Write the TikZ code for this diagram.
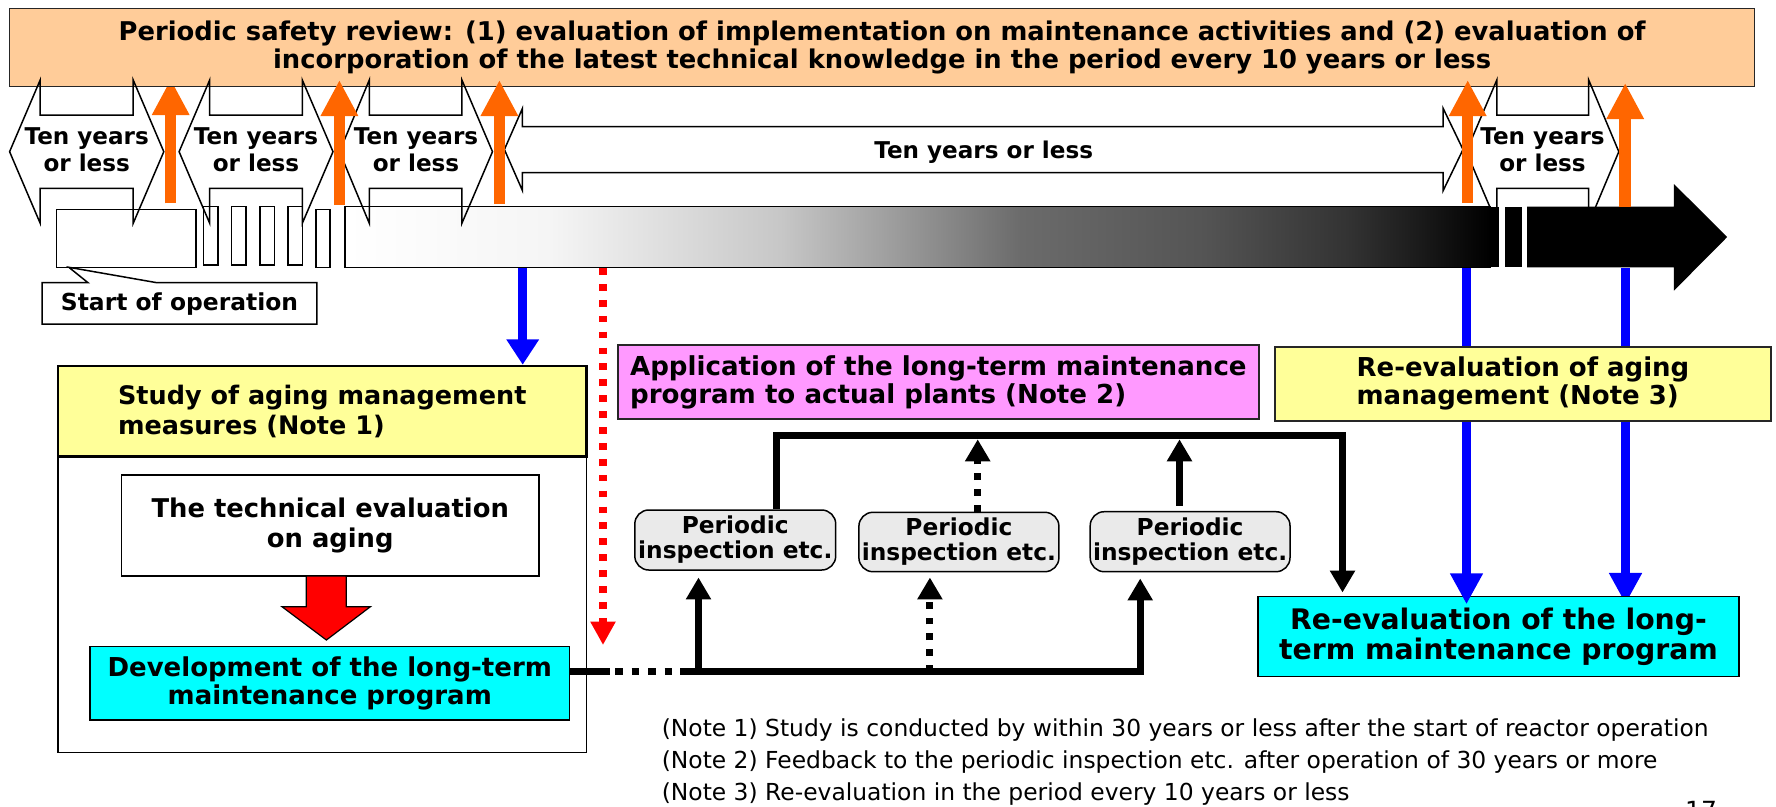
\documentclass[tikz,border=0pt]{standalone}
\usepackage{fontspec}
\setmainfont{DejaVu Sans}
\usetikzlibrary{arrows.meta}
\definecolor{peach}{HTML}{FFCC99}
\definecolor{lyellow}{HTML}{FFFF99}
\definecolor{lpink}{HTML}{FF99FF}
\definecolor{aqua}{HTML}{00FFFF}
\definecolor{orng}{HTML}{FF6600}
\definecolor{pgray}{HTML}{EAEAEA}
\pgfdeclarehorizontalshading{tlshade}{100bp}{color(0bp)=(white); color(25bp)=(white); color(34bp)=(black!4); color(44bp)=(black!22); color(48.5bp)=(black!37); color(54.5bp)=(black!58); color(62.5bp)=(black!67); color(68.75bp)=(black!80); color(72bp)=(black!90); color(75bp)=(black); color(100bp)=(black)}
\begin{document}
\begin{tikzpicture}[x=1pt,y=-1pt,line join=miter,
  bx/.style={draw=black, line width=1.5pt, inner sep=0pt, align=center},
  tenarr/.style={draw=black, line width=1.5pt},
  tentxt/.style={align=center, inner sep=0pt, font=\fontsize{23.1}{26.7}\selectfont\bfseries},
  orarrow/.style={draw=orng, line width=11.5pt, -{Triangle[width=35pt,length=36pt]}},
  bluearrow/.style={draw=blue, line width=9.3pt, -{Triangle[width=31pt,length=#1]}},
  flow/.style={draw=black, line width=7pt},
  flowarrow/.style={flow, -{Triangle[width=24pt,length=22pt]}},
  dotsq/.style={dash pattern=on 6.7pt off 9pt},
  pibox/.style={bx, fill=pgray, rounded corners=14pt, minimum width=200pt, minimum height=60pt, font=\fontsize{23.3}{25}\selectfont\bfseries},
  smallrect/.style={draw=black, line width=1.5pt, fill=white, inner sep=0pt, minimum height=58.3pt},
]
\useasboundingbox (0,0) rectangle (1776,806);

% orange arrow behind the top box
\coordinate (oa1) at (170.7,203.3); \coordinate (oa1t) at (170.7,79);
\draw[orarrow] (oa1) -- (oa1t);

% top box
\node[bx, draw=black!85, fill=peach, minimum width=1745.1pt, minimum height=78.4pt,
  font=\fontsize{25.8}{28}\selectfont\bfseries] (psr) at (882.15,47.5)
  {Periodic safety review: (1) evaluation of implementation on maintenance activities and (2) evaluation of\\incorporation of the latest technical knowledge in the period every 10 years or less};

% timeline
\node[smallrect, minimum width=139.7pt, minimum height=58pt] (sb) at (126.15,238.3) {};
\node[smallrect, minimum width=14.5pt] (r1) at (210.85,235.85) {};
\node[smallrect, minimum width=14.6pt] (r2) at (238.8,235.85) {};
\node[smallrect, minimum width=14.2pt] (r3) at (267.3,235.85) {};
\node[smallrect, minimum width=14.5pt] (r4) at (295.05,235.85) {};
\node[smallrect, minimum width=13.8pt, minimum height=58pt] (r5) at (323,238.3) {};
\node[draw=black, line width=1.5pt, shading=tlshade, inner sep=0pt, minimum width=1145pt, minimum height=60.6pt] (bar) at (917.7,237) {};
\fill[black] (1490.2,206.7) rectangle (1499.4,267.3);
\fill[black] (1504.9,206.7) rectangle (1521.5,267.3);
\fill[black] (1527,206.7) -- (1673.9,206.7) -- (1673.9,184) -- (1727.2,237) -- (1673.9,290.7) -- (1673.9,267.3) -- (1527,267.3) -- cycle;

% start of operation callout
\draw[line width=1.5pt, fill=white] (42.1,282.7) -- (88,282.7) -- (68.9,267.3) -- (156.9,282.7) -- (316.9,282.7) -- (316.9,324) -- (42.1,324) -- cycle;
\node[inner sep=0pt, anchor=base, font=\fontsize{23.4}{26}\selectfont\bfseries] (start) at (179.5,310) {Start of operation};

% ten-years double arrows
\draw[tenarr] (9.6,151.7) -- (40.2,80) -- (40.2,115) -- (133.2,115) -- (133.2,80) -- (163.8,151.7) -- (133.2,223.3) -- (133.2,188.3) -- (40.2,188.3) -- (40.2,223.3) -- cycle;
\draw[tenarr] (179.1,151.7) -- (209.7,80) -- (209.7,115) -- (302.3,115) -- (302.3,80) -- (333,151.7) -- (302.3,223.3) -- (302.3,188.3) -- (209.7,188.3) -- (209.7,223.3) -- cycle;
\draw[tenarr] (339.5,151.7) -- (369.3,80) -- (369.3,115) -- (461.9,115) -- (461.9,80) -- (492.5,151.7) -- (461.9,223.3) -- (461.9,188.3) -- (369.3,188.3) -- (369.3,223.3) -- cycle;
\draw[tenarr] (504.4,149.5) -- (522.4,108.5) -- (522.4,126.5) -- (1443.2,126.5) -- (1443.2,108.5) -- (1463,149.5) -- (1443.2,190.5) -- (1443.2,172.5) -- (522.4,172.5) -- (522.4,190.5) -- cycle;
\draw[tenarr] (1466.3,151.7) -- (1496.8,80) -- (1496.8,115) -- (1588.7,115) -- (1588.7,80) -- (1618.8,151.7) -- (1588.7,223.3) -- (1588.7,188.3) -- (1496.8,188.3) -- (1496.8,223.3) -- cycle;
\node[tentxt] (t1) at (86.7,150) {Ten years\\or less};
\node[tentxt] (t2) at (256,150) {Ten years\\or less};
\node[tentxt] (t3) at (416,150) {Ten years\\or less};
\node[tentxt, anchor=base] (t4) at (983.7,158.3) {Ten years or less};
\node[tentxt] (t5) at (1542.5,150) {Ten years\\or less};

% orange arrows in front
\coordinate (oa2) at (339.4,205); \coordinate (oa2t) at (339.4,80);
\coordinate (oa3) at (499.4,204); \coordinate (oa3t) at (499.4,80);
\coordinate (oa4) at (1467.7,203); \coordinate (oa4t) at (1467.7,80);
\coordinate (oa5) at (1625.2,206.7); \coordinate (oa5t) at (1625.2,83);
\draw[orarrow] (oa2) -- (oa2t);
\draw[orarrow] (oa3) -- (oa3t);
\draw[orarrow] (oa4) -- (oa4t);
\draw[orarrow] (oa5) -- (oa5t);

% left block
\node[bx, fill=white, minimum width=528.1pt, minimum height=386.3pt] (study) at (322.25,559.15) {};
\node[bx, line width=2.5pt, fill=lyellow, minimum width=528.1pt, minimum height=90.7pt, align=left,
  font=\fontsize{25.5}{30}\selectfont\bfseries] (studyhead) at (322.25,411.35) {Study of aging management\\measures (Note 1)};
\node[bx, fill=white, minimum width=417.1pt, minimum height=101pt,
  font=\fontsize{25.8}{29.3}\selectfont\bfseries] (tech) at (330.25,525.5) {The technical evaluation\\on aging};
\draw[fill=red, draw=black, line width=1.2pt] (306.2,576) -- (346.3,576) -- (346.3,606.7) -- (370.4,606.7) -- (326.4,640) -- (282,606.7) -- (306.2,606.7) -- cycle;
\node[bx, fill=aqua, minimum width=479.5pt, minimum height=73.3pt,
  font=\fontsize{26}{28.4}\selectfont\bfseries] (dev) at (329.75,683.35) {Development of the long-term\\maintenance program};

% blue arrow to study box
\coordinate (b1x) at (522.7,0);
\draw[bluearrow=25.3pt] (bar.south -| b1x) -- (b1x |- studyhead.north);

% red dotted arrow
\coordinate (rdx) at (603,0);
\coordinate (rdt) at (603,645);
\draw[draw=red, line width=7.3pt, dash pattern=on 6.7pt off 9.2pt, -{Triangle[width=23.7pt,length=23.3pt]}] (bar.south -| rdx) -- (rdt);

% application box
\node[bx, draw=black!85, line width=2pt, fill=lpink, minimum width=640.9pt, minimum height=74.3pt, align=left,
  font=\fontsize{26.1}{28.3}\selectfont\bfseries] (apply) at (938.35,382.15) {Application of the long-term maintenance\\program to actual plants (Note 2)};

% periodic inspection boxes
\node[pibox, minimum width=200.9pt] (pi1) at (735.25,540) {Periodic\\inspection etc.};
\node[pibox, minimum height=59.4pt] (pi2) at (958.9,542) {Periodic\\inspection etc.};
\node[pibox, minimum width=199.8pt] (pi3) at (1190.1,541.7) {Periodic\\inspection etc.};

% right side
\coordinate (b2x) at (1466.5,0);
\coordinate (b3x) at (1625.5,0);
\node[bx, fill=aqua, minimum width=481pt, minimum height=80pt,
  font=\fontsize{28.3}{30}\selectfont\bfseries] (relt) at (1498.5,636.7) {};
\draw[bluearrow=31pt] (bar.south -| b3x) -- ([yshift=-8pt]b3x |- relt.north);
\node[bx, fill=aqua, minimum width=481pt, minimum height=80pt,
  font=\fontsize{28.3}{30}\selectfont\bfseries] (relt) at (1498.5,636.7) {Re-evaluation of the long-\\term maintenance program};
\draw[bluearrow=31pt] (bar.south -| b2x) -- ([yshift=-8.3pt]b2x |- relt.north);
\node[bx, draw=black!85, line width=2pt, fill=lyellow, minimum width=496.7pt, minimum height=74pt, align=left,
  font=\fontsize{26}{28}\selectfont\bfseries] (reeval) at (1522.95,383.7) {Re-evaluation of aging\\management (Note 3)};

% feedback loop
\coordinate (lp1) at (776.3,435.5);
\coordinate (lp2) at (1342.5,435.5);
\coordinate (lt) at (0,439.3);
\coordinate (d2x) at (977.7,0);
\coordinate (s3x) at (1179.5,0);
\draw[flowarrow] (pi1.north -| lp1) -- (lp1) -- (lp2) -- ([yshift=3.4pt]lp2 |- relt.north);
\draw[flowarrow, dotsq] (pi2.north -| d2x) -- (d2x |- lt);
\draw[flowarrow] ([yshift=5pt]pi3.north -| s3x) -- (s3x |- lt);

% bottom distribution line
\coordinate (bl) at (0,671.5);
\coordinate (u1) at (698.5,671.5);
\coordinate (u2) at (929.9,671.5);
\coordinate (u3) at (1140.2,671.5);
\coordinate (dA) at (610.3,671.5);
\coordinate (dB) at (615,671.5);
\coordinate (dC) at (680,671.5);
\draw[flow] (dev.east |- bl) -- (dA);
\draw[flow, dash pattern=on 7.7pt off 8.8pt] (dB) -- (dC);
\draw[flowarrow] (dC) -- (u3) -- ([yshift=-6pt]u3 |- pi3.south);
\draw[flowarrow] (u1) -- ([yshift=-6.7pt]u1 |- pi1.south);
\draw[flowarrow, dotsq] (u2) -- ([yshift=-5pt]u2 |- pi2.south);

% notes
\node[inner sep=0pt, anchor=base west, font=\fontsize{23.4}{26}\selectfont] (n1) at (661.6,736.7) {(Note 1) Study is conducted by within 30 years or less after the start of reactor operation};
\node[inner sep=0pt, anchor=base west, font=\fontsize{23.4}{26}\selectfont] (n2) at (661.6,768.3) {(Note 2) Feedback to the periodic inspection etc. after operation of 30 years or more};
\node[inner sep=0pt, anchor=base west, font=\fontsize{23.4}{26}\selectfont] (n3) at (661.6,800) {(Note 3) Re-evaluation in the period every 10 years or less};
\node[inner sep=0pt, anchor=base west, font=\fontsize{25}{26}\selectfont] (pg) at (1685,819.9) {17};
\end{tikzpicture}
\end{document}
